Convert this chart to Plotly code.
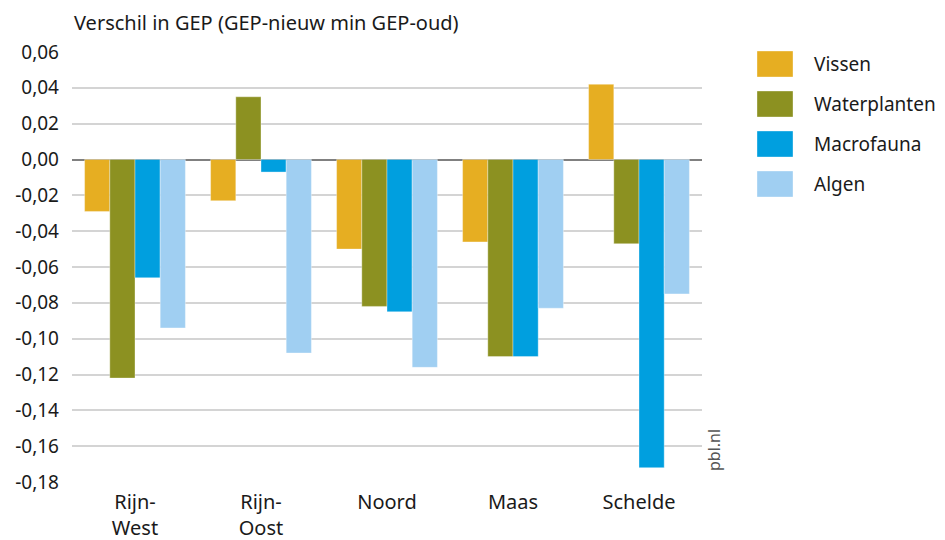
import plotly.graph_objects as go

categories = ["Rijn-<br>West", "Rijn-<br>Oost", "Noord", "Maas", "Schelde"]
series_names = ["Vissen", "Waterplanten", "Macrofauna", "Algen"]
vissen = [-0.029, -0.023, -0.050, -0.046, 0.042]
waterplanten = [-0.122, 0.035, -0.082, -0.110, -0.047]
macrofauna = [-0.066, -0.007, -0.085, -0.110, -0.172]
algen = [-0.094, -0.108, -0.116, -0.083, -0.075]
colors = ["#E6AE22", "#8C9121", "#009FDF", "#A0CFF2"]
tick_vals = [0.06, 0.04, 0.02, 0.0, -0.02, -0.04, -0.06, -0.08, -0.10, -0.12, -0.14, -0.16, -0.18]
tick_text = ["0,06", "0,04", "0,02", "0,00", "-0,02", "-0,04", "-0,06", "-0,08", "-0,10",
             "-0,12", "-0,14", "-0,16", "-0,18"]

FONT = "Noto Sans"
values = [vissen, waterplanten, macrofauna, algen]

fig = go.Figure()
for name, vals, col in zip(series_names, values, colors):
    fig.add_trace(go.Bar(x=categories, y=vals, name=name, marker_color=col,
                         marker_line=dict(color="rgba(255,255,255,0.35)", width=1),
                         showlegend=False))

# page has 8px body margin -> figure is offset by (8, 8)
OFF = 8
W, H = 945 - OFF, 540 - OFF
ml, mt = 72 - OFF, 52 - OFF
plot_right, plot_bottom = 702 - OFF, 482 - OFF
mr, mb = W - plot_right, H - plot_bottom
fig.update_layout(
    width=W, height=H,
    margin=dict(l=ml, r=mr, t=mt, b=mb, autoexpand=False),
    plot_bgcolor="white", paper_bgcolor="white",
    barmode="group", bargap=0.2, bargroupgap=0,
    font=dict(family=FONT, size=18, color="#1a1a1a"),
    xaxis=dict(showgrid=False, ticks="", showline=False, zeroline=False,
               tickfont=dict(size=20), ticklabelstandoff=6, automargin=False),
    yaxis=dict(range=[-0.18, 0.06], tickvals=tick_vals, ticktext=tick_text,
               showgrid=True, gridcolor="#d4d4d4", gridwidth=1.5,
               zeroline=True, zerolinecolor="#808080", zerolinewidth=2,
               ticks="", ticklabelstandoff=12, tickfont=dict(size=19), automargin=False),
)

fig.add_annotation(text="Verschil in GEP (GEP-nieuw min GEP-oud)", xref="paper", yref="paper",
                   x=0, y=1, yshift=30, xanchor="left", yanchor="middle",
                   showarrow=False, font=dict(size=20))
fig.add_annotation(text="pbl.nl", xref="paper", yref="paper", x=1, y=0, xshift=12, yshift=32,
                   textangle=-90, showarrow=False, xanchor="center", yanchor="middle",
                   font=dict(size=16, color="#555555"))

# custom legend (large swatches)
pw = W - ml - mr
ph = H - mt - mb
for i, (name, col) in enumerate(zip(series_names, colors)):
    yc = 64 + 40 * i - OFF
    x0 = (757 - OFF - ml) / pw
    x1 = (793 - OFF - ml) / pw
    y0 = 1 - (yc - 13 - mt) / ph
    y1 = 1 - (yc + 13 - mt) / ph
    fig.add_shape(type="rect", xref="paper", yref="paper", x0=x0, x1=x1, y0=y0, y1=y1,
                  fillcolor=col, line=dict(color="rgba(255,255,255,0.35)", width=1))
    fig.add_annotation(text=name, xref="paper", yref="paper", x=(812 - OFF - ml) / pw,
                       y=1 - (yc - mt) / ph, xanchor="left", yanchor="middle",
                       showarrow=False, font=dict(size=19))

fig.write_html("out.html")
